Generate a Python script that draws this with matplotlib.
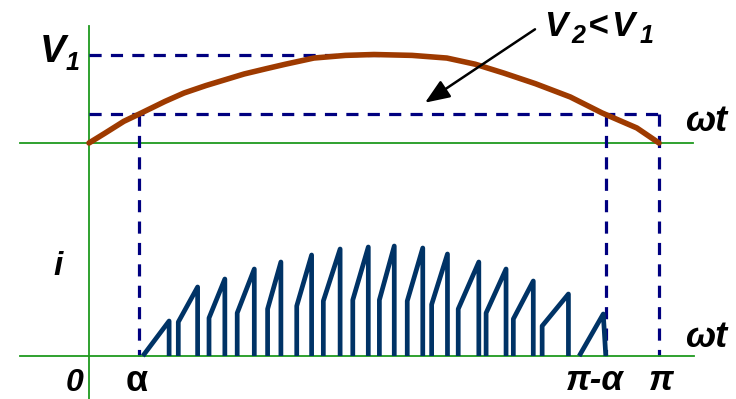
import matplotlib
matplotlib.use('Agg')
import matplotlib.pyplot as plt

W, H = 736, 399

# ---- data ----
# supply voltage curve: wt in degrees, v relative to V1
wt_v = [0, 5, 11, 16, 24, 30, 37, 43, 49, 56, 62, 71, 81, 90,
        102, 113, 122, 131, 141, 152, 162, 173, 180]
v = [0, 0.11, 0.245, 0.33, 0.47, 0.565, 0.65, 0.715, 0.78, 0.84, 0.89, 0.96,
     0.99, 1.0, 0.99, 0.96, 0.89, 0.79, 0.67, 0.52, 0.34, 0.17, 0]
V1 = 1.0
V2 = 0.333
alpha = 15.8          # degrees
pi_minus_alpha = 163.4
pi_deg = 180.0

# current pulses (wt in degrees, i in arbitrary units)
pulse_on = [17.0, 28.2, 37.9, 46.8, 56.4, 65.6, 74.0, 83.3, 91.7, 100.5,
            108.2, 116.6, 125.4, 134.0, 143.1, 154.8]
pulse_peak = [25.3, 34.3, 42.9, 52.2, 60.6, 70.3, 79.3, 88.2, 96.4, 105.4,
              113.2, 123.1, 131.7, 140.3, 151.4, 162.4]
pulse_off = [25.3, 34.3, 42.9, 52.2, 60.6, 70.3, 79.3, 88.2, 96.4, 105.4,
             113.2, 123.1, 131.7, 140.3, 151.4, 163.2]
i_start = [0, .34, .38, .43, .47, .50, .55, .56, .56, .55, .515, .47, .43,
           .37, .30, 0]
i_peak = [.35, .69, .77, .87, .94, 1.01, 1.07, 1.09, 1.10, 1.08, 1.02, .94,
          .87, .75, .62, .42]

# ---- figure ----
fig = plt.figure(figsize=(W / 100, H / 100), dpi=100)
fig.patch.set_facecolor('white')

PX_PER_DEG = 570 / 180.0
x0_px = 89
xlim = (-x0_px / PX_PER_DEG, (W - x0_px) / PX_PER_DEG)

ax_v = fig.add_axes([0, 0, 1, 1])
v0_px, v_scale = 143, 88.5
ax_v.set_xlim(*xlim)
ax_v.set_ylim(-(H - v0_px) / v_scale, v0_px / v_scale)

ax_i = fig.add_axes([0, 0, 1, 1])
i0_px, i_scale = 356, 100.0
ax_i.set_xlim(*xlim)
ax_i.set_ylim(-(H - i0_px) / i_scale, i0_px / i_scale)
ax_i.patch.set_alpha(0)
for a in (ax_v, ax_i):
    a.axis('off')

green = '#1f9a1f'
navy = '#000080'
brown = '#9e3a00'
pulse_col = '#003366'

# axes lines
ax_v.plot([0, 0], [(v0_px - 26) / v_scale, -10], color=green, lw=1.3,
          clip_on=False, zorder=1)
ax_v.plot([-21.8, 190.7], [0, 0], color=green, lw=1.3, zorder=1)
ax_i.plot([-21.8, 191.0], [0, 0], color=green, lw=1.3, zorder=1)

# y of i=0 expressed in ax_v data units
y_i0 = ax_v.transData.inverted().transform(ax_i.transData.transform((0, 0)))[1]

dash_kw = dict(color=navy, lw=2.3, dashes=(3.8, 2.9), zorder=2)
ax_v.plot([0, 93], [V1, V1], **dash_kw)
ax_v.plot([0, pi_deg], [V2, V2], **dash_kw)
for xv in (alpha, pi_minus_alpha, pi_deg):
    ax_v.plot([xv, xv], [V2, y_i0], **dash_kw)

# voltage curve
ax_v.plot(wt_v, v, color=brown, lw=4.0, solid_capstyle='round',
          solid_joinstyle='round', zorder=3)

# current pulses
for on, pk, off, s, p in zip(pulse_on, pulse_peak, pulse_off, i_start, i_peak):
    ax_i.plot([on, on, pk, off], [0, s, p, 0], color=pulse_col, lw=3.4,
              solid_joinstyle='round', solid_capstyle='butt', zorder=3)

# arrow
ax_v.annotate('', xy=(425, H - 102.7), xytext=(535, H - 29.3),
              xycoords='figure pixels', textcoords='figure pixels',
              arrowprops=dict(arrowstyle='-|>,head_length=0.75,head_width=0.3',
                              lw=1.8, color='black', shrinkA=0, shrinkB=0,
                              mutation_scale=20))

# ---- text ----
FONT = dict(family='Liberation Sans', weight='bold', style='italic',
            color='black', va='baseline', ha='left')


def txt(px, py, s, size, **kw):
    d = dict(FONT)
    d.update(kw)
    fig.text(px / W, 1 - py / H, s, fontsize=size, **d)


txt(40, 62, 'V', 28)
txt(66, 70, '1', 18)

txt(544, 36, 'V', 25)
txt(571, 43, '2', 18)
txt(588, 36, '<', 25)
txt(611, 36, 'V', 25)
txt(640, 43, '1', 18)

txt(685, 131, 'ωt', 26)
txt(685, 347, 'ωt', 26)
txt(53, 275, 'i', 24)
txt(66, 391, '0', 23)
txt(126, 391, 'α', 26, style='normal')
txt(566, 390, 'π-α', 25)
txt(649, 390, 'π', 25)

fig.savefig('out.png', dpi=100, facecolor='white')
